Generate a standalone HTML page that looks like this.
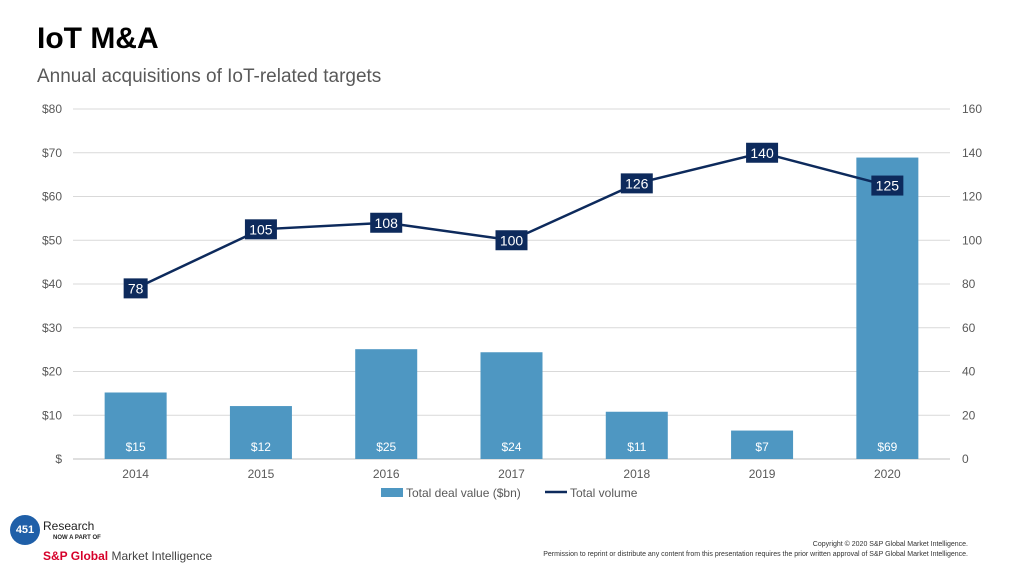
<!DOCTYPE html>
<html><head><meta charset="utf-8"><style>
body{margin:0;width:1024px;height:576px;background:#fff;font-family:"Liberation Sans",sans-serif;overflow:hidden;position:relative}
.abs{position:absolute}
</style></head><body>
<div class="abs" style="left:37px;top:22px;font-size:30px;font-weight:bold;color:#000">IoT M&amp;A</div>
<div class="abs" style="left:37px;top:66px;font-size:19px;color:#595959">Annual acquisitions of IoT-related targets</div>
<svg class="abs" style="left:0;top:0" width="1024" height="576" id="chart"></svg>
<div class="abs" style="left:10px;top:515px;width:210px;height:50px">
<div style="position:absolute;left:0;top:0;width:30px;height:30px;border-radius:50%;background:#1f5fa8;color:#fff;font-size:11px;font-weight:bold;line-height:30px;text-align:center">451</div>
<div style="position:absolute;left:33px;top:4px;font-size:12px;color:#222">Research</div>
<div style="position:absolute;left:43px;top:20px;font-size:6px;font-weight:bold;color:#222">NOW A PART OF</div>
<div style="position:absolute;left:33px;top:34px;font-size:12px"><b style="color:#d6002a">S&amp;P Global</b> <span style="color:#444">Market Intelligence</span></div>
</div>
<div class="abs" style="right:56px;top:540px;font-size:7px;color:#333;text-align:right;line-height:10px">Copyright © 2020 S&amp;P Global Market Intelligence.<br>Permission to reprint or distribute any content from this presentation requires the prior written approval of S&amp;P Global Market Intelligence.</div>
<script>
const years=["2014","2015","2016","2017","2018","2019","2020"];
const dealValue=[15.2,12.1,25.1,24.4,10.8,6.5,68.9];
const dealLabels=["$15","$12","$25","$24","$11","$7","$69"];
const volume=[78,105,108,100,126,140,125];
const leftTicks=[0,10,20,30,40,50,60,70,80];
const rightTicks=[0,20,40,60,80,100,120,140,160];
const svg=document.getElementById('chart');const NS="http://www.w3.org/2000/svg";
const L=73,R=950,T=109,B=459;
const yL=v=>B-(B-T)*v/80, yR=v=>B-(B-T)*v/160;
const step=(R-L)/years.length, xC=i=>L+step*(i+0.5);
function el(t,a,txt){const e=document.createElementNS(NS,t);for(const k in a)e.setAttribute(k,a[k]);if(txt!=null)e.textContent=txt;svg.appendChild(e);return e;}
leftTicks.forEach((v,i)=>{
const g=el('line',{x1:L,x2:R,y1:yL(v),y2:yL(v),stroke:i?'#d9d9d9':'#bfbfbf'});


const t=el('text',{x:62,y:yL(v)+4,'text-anchor':'end','font-size':12,fill:'#595959'},v?'$'+v:'$');


});
rightTicks.forEach(v=>{
const t=el('text',{x:962,y:yR(v)+4,'font-size':12,fill:'#595959'},v);


});
years.forEach((y,i)=>{
const b=el('rect',{x:xC(i)-31,y:yL(dealValue[i]),width:62,height:B-yL(dealValue[i]),fill:'#4e97c2'});


const l=el('text',{x:xC(i),y:451,'text-anchor':'middle','font-size':12,fill:'#fff'},dealLabels[i]);


const t=el('text',{x:xC(i),y:478,'text-anchor':'middle','font-size':12,fill:'#595959'},y);


});
const line=el('polyline',{points:volume.map((v,i)=>xC(i)+','+yR(v)).join(' '),fill:'none',stroke:'#0d2a5c','stroke-width':2.5});


volume.forEach((v,i)=>{
const w=String(v).length*8+8;
const r=el('rect',{x:xC(i)-w/2,y:yR(v)-10,width:w,height:20,fill:'#0d2a5c'});


const t=el('text',{x:xC(i),y:yR(v)+5,'text-anchor':'middle','font-size':14,fill:'#fff'},v);


});
const lg1=el('rect',{x:381,y:488,width:22,height:9,fill:'#4e97c2'});


const lt1=el('text',{x:406,y:497,'font-size':12,fill:'#595959'},'Total deal value ($bn)');


const lg2=el('line',{x1:545,x2:567,y1:492,y2:492,stroke:'#0d2a5c','stroke-width':2.5});


const lt2=el('text',{x:570,y:497,'font-size':12,fill:'#595959'},'Total volume');


</script>
</body></html>
